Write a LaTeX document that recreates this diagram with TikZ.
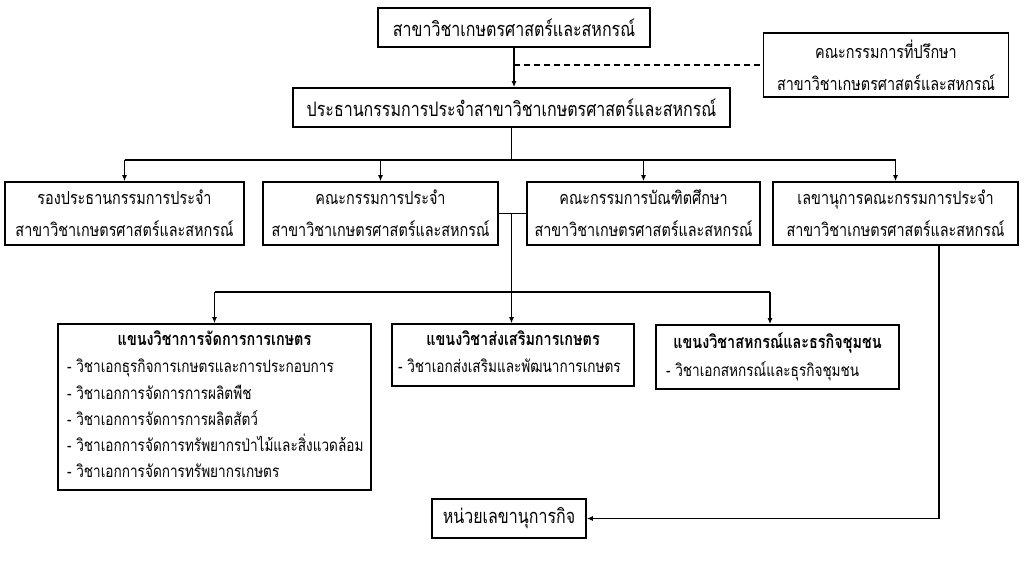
\documentclass[tikz,border=0pt]{standalone}
\usepackage{fontspec}
\newfontfamily\thaifont[Script=Thai,FakeStretch=0.8]{Loma}
\usetikzlibrary{arrows.meta}
\tikzset{
  box/.style={draw, line width=1.6pt, align=center, inner sep=0pt, fill=white},
  bigtxt/.style={font=\thaifont\fontsize{20}{31}\selectfont},
  smalltxt/.style={font=\thaifont\fontsize{18}{32}\selectfont},
  conn/.style={line width=1.4pt},
  arr/.style={conn, -{Latex[length=6pt,width=5pt]}},
  ttl/.style={font=\thaifont\bfseries\fontsize{18}{24}\selectfont, inner sep=0pt, text height=13pt, text depth=5pt},
  itm/.style={font=\thaifont\fontsize{17}{24}\selectfont, anchor=west, inner sep=0pt, text height=13pt, text depth=5pt},
}
\begin{document}
\begin{tikzpicture}[x=1pt,y=-1pt, font=\thaifont\fontsize{20}{31}\selectfont]
\useasboundingbox[fill=white] (0,0) rectangle (1024,576);

\node[box, bigtxt, minimum width=272, minimum height=39] (A) at (514,27.5) {สาขาวิชาเกษตรศาสตร์และสหกรณ์};
\node[box, smalltxt, minimum width=245, minimum height=64] (B) at (886,65) {คณะกรรมการที่ปรึกษา\\สาขาวิชาเกษตรศาสตร์และสหกรณ์};
\node[box, bigtxt, minimum width=437, minimum height=39] (C) at (511.5,107.5) {ประธานกรรมการประจำสาขาวิชาเกษตรศาสตร์และสหกรณ์};

\node[box, smalltxt, minimum width=239, minimum height=63] (D1) at (124.5,213.5) {รองประธานกรรมการประจำ\\สาขาวิชาเกษตรศาสตร์และสหกรณ์};
\node[box, smalltxt, minimum width=235, minimum height=63] (D2) at (380.5,213.5) {คณะกรรมการประจำ\\สาขาวิชาเกษตรศาสตร์และสหกรณ์};
\node[box, smalltxt, minimum width=233, minimum height=63] (D3) at (643.5,213.5) {คณะกรรมการบัณฑิตศึกษา\\สาขาวิชาเกษตรศาสตร์และสหกรณ์};
\node[box, smalltxt, minimum width=245, minimum height=63] (D4) at (895.5,213.5) {เลขานุการคณะกรรมการประจำ\\สาขาวิชาเกษตรศาสตร์และสหกรณ์};

\node[box, minimum width=313, minimum height=166] (E1) at (214.5,407) {};
\node[box, minimum width=242, minimum height=62] (E2) at (513,355) {};
\node[box, minimum width=243, minimum height=64] (E3) at (777.5,357) {};

\node[box, bigtxt, minimum width=154, minimum height=39] (F) at (509,518.5) {หน่วยเลขานุการกิจ};

% texts inside the programme boxes
\node[ttl] (E1t) at (214.5,341) {แขนงวิชาการจัดการการเกษตร};
\node[itm] (E1a) at (67,368) {- วิชาเอกธุรกิจการเกษตรและการประกอบการ};
\node[itm] (E1b) at (67,395) {- วิชาเอกการจัดการการผลิตพืช};
\node[itm] (E1c) at (67,421) {- วิชาเอกการจัดการการผลิตสัตว์};
\node[itm] (E1d) at (67,447) {- วิชาเอกการจัดการทรัพยากรป่าไม้และสิ่งแวดล้อม};
\node[itm] (E1e) at (67,473) {- วิชาเอกการจัดการทรัพยากรเกษตร};

\node[ttl] (E2t) at (513,341) {แขนงวิชาส่งเสริมการเกษตร};
\node[itm] (E2a) at (398,368) {- วิชาเอกส่งเสริมและพัฒนาการเกษตร};

\node[ttl] (E3t) at (777.5,344) {แขนงวิชาสหกรณ์และธรกิจชุมชน};
\node[itm] (E3a) at (666,372) {- วิชาเอกสหกรณ์และธุรกิจชุมชน};

% connectors
\draw[arr] (A.south) -- (A.south |- C.north);
\coordinate (dj) at (A.south |- B.west);
\draw[conn, dashed, dash pattern=on 6pt off 4pt] (dj) -- (B.west);

\coordinate (bus1) at (511.5,160);
\draw[conn] (C.south) -- (bus1);
\draw[conn] (D1.north |- bus1) -- (D4.north |- bus1);
\foreach \n in {D1,D2,D3,D4} \draw[arr] (\n.north |- bus1) -- (\n.north);

\draw[conn] (D2.east) -- (D3.west);
\coordinate (j) at (C.south |- D2.east);
\draw[arr] (j) -- (j |- E2.north);
\coordinate (bus2) at (512,292);
\coordinate (e3a) at (770,292);
\draw[conn] (E1.north |- bus2) -- (e3a);
\draw[arr] (E1.north |- bus2) -- (E1.north);
\draw[arr] (e3a) -- (e3a |- E3.north);

\coordinate (s) at (939,245);
\draw[arr] (s |- D4.south) |- (F.east);
\end{tikzpicture}
\end{document}
